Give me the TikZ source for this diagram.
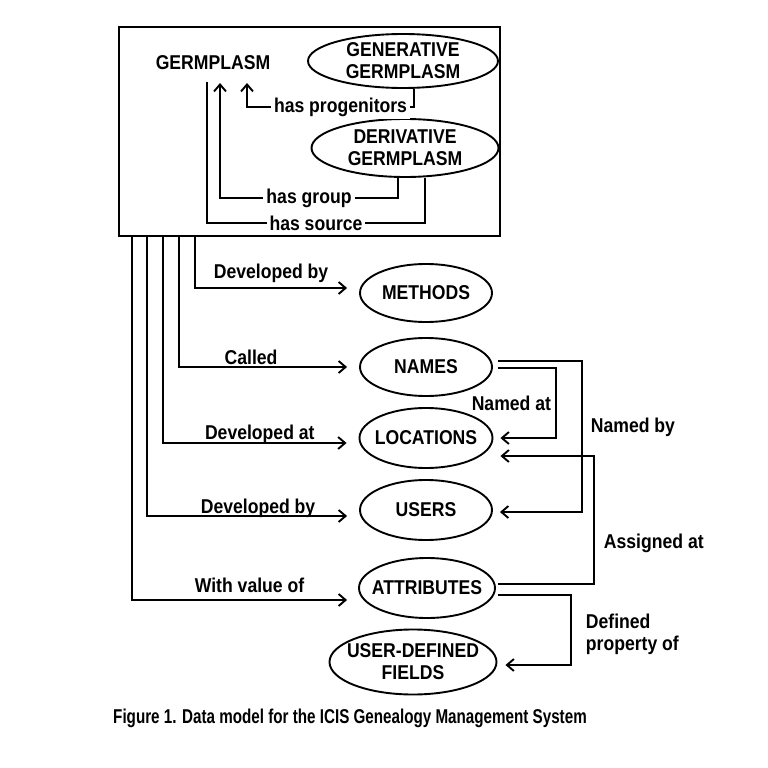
\documentclass[tikz,border=0pt]{standalone}
\usepackage{fontspec}
\setmainfont{Liberation Sans}[FakeStretch=0.88]
\newfontfamily\capfont{Liberation Sans}[FakeStretch=0.76]
\usetikzlibrary{arrows.meta,shapes.geometric,calc}

\begin{document}
\begin{tikzpicture}[
  x=1pt, y=-1pt,
  every node/.style={font=\bfseries\fontsize{20}{22}\selectfont},
  entity/.style={
    draw,
    ellipse,
    line width=1.9pt,
    align=center,
    inner xsep=-12pt,
    inner ysep=0pt
  },
  lbl/.style={fill=white, inner sep=3pt},
  link/.style={line width=1.9pt},
  arrow/.style={link, -{Straight Barb[length=7pt,width=12pt]}}
]
\useasboundingbox (0,0) rectangle (768,768);

% germplasm box
\node[draw, line width=1.9pt, minimum width=381, minimum height=209, inner sep=0pt] (box) at (309.5,131.5) {};
\node (germ) at (213,63) {GERMPLASM};
\node[entity, minimum width=190, minimum height=54] (gen) at (403,61) {GENERATIVE\\GERMPLASM};
\node[entity, minimum width=187, minimum height=58] (der) at (405,148) {DERIVATIVE\\GERMPLASM};

\coordinate (src) at (207,82);
\coordinate (grp) at (220,83);
\coordinate (prg) at (247,83);

\draw[link] ([xshift=20]der.south) -- ++(0,45) -| node[lbl, pos=0.25] {has source} (src);
\draw[arrow] ([xshift=-7]der.south) -- ++(0,20) -| node[lbl, pos=0.25] {has group} (grp);
\draw[arrow] ([xshift=11]gen.south) -- ++(0,18) -| node[lbl, pos=0.22] {has progenitors} (prg);

% entities
\node[entity, minimum width=132, minimum height=58] (meth) at (426,293) {METHODS};
\node[entity, minimum width=132, minimum height=58] (names) at (426,367) {NAMES};
\node[entity, minimum width=133, minimum height=60] (loc) at (426,438) {LOCATIONS};
\node[entity, minimum width=132, minimum height=60] (users) at (426,510) {USERS};
\node[entity, minimum width=136, minimum height=60] (attr) at (427,588) {ATTRIBUTES};
\node[entity, minimum width=167, minimum height=65] (udf) at (413,662) {USER-DEFINED\\FIELDS};

\draw[arrow] ([xshift=77]box.south west) |- ([xshift=-12,yshift=5]meth.west)
  node[pos=0.75, above=4pt, inner sep=0pt] {Developed by};
\draw[arrow] ([xshift=61]box.south west) |- ([xshift=-12]names.west)
  node[pos=0.75, above=1pt, inner sep=0pt, xshift=-12] {Called};
\draw[arrow] ([xshift=45]box.south west) |- ([xshift=-12,yshift=-5]loc.west)
  node[pos=0.75, above=-2pt, inner sep=0pt, xshift=5] {Developed at};
\draw[arrow] ([xshift=29]box.south west) |- ([xshift=-12,yshift=-6]users.west)
  node[pos=0.75, above=-3pt, inner sep=0pt, xshift=11] {Developed by};
\draw[arrow] ([xshift=14]box.south west) |- ([xshift=-11,yshift=-12]attr.west)
  node[pos=0.75, above=6pt, inner sep=0pt, xshift=10] {With value of};

% links between entities
\draw[arrow] ([xshift=5,yshift=-1]names.east) -- ++(58,0) |- node[pos=0.25, left=4pt, inner sep=0pt] {Named at} ([xshift=7]loc.east);
\draw[arrow] ([xshift=5,yshift=6]names.east) -- ++(84,0) |- node[pos=0.22, right=8pt, inner sep=0pt] {Named by} ([xshift=7,yshift=-2]users.east);
\draw[arrow] ([xshift=2,yshift=4]attr.east) -- ++(96,0) |- node[pos=0.16, right=9pt, inner sep=0pt] {Assigned at} ([xshift=7,yshift=-18]loc.east);
\draw[arrow] ([xshift=2,yshift=-7]attr.east) -- ++(73,0) |- node[pos=0.28, right=14pt, inner sep=0pt, align=left] {Defined\\property of} ([xshift=8,yshift=-3]udf.east);

\node[font=\capfont\bfseries\fontsize{20}{22}\selectfont] (caption) at (350,718) {Figure 1. Data model for the ICIS Genealogy Management System};
\end{tikzpicture}
\end{document}
